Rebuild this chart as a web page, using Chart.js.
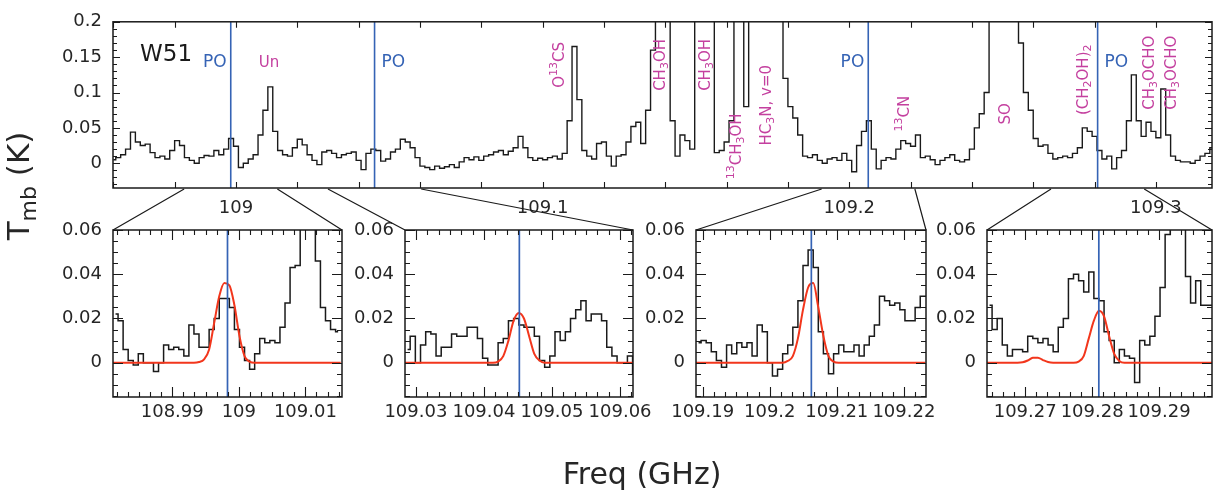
<!DOCTYPE html>
<html>
<head>
<meta charset="utf-8">
<title>W51 PO lines</title>
<script src="https://cdn.jsdelivr.net/npm/chart.js@4/dist/chart.umd.min.js"></script>
<style>
  html, body { margin: 0; padding: 0; background: #fff; }
  #fig { position: relative; width: 1213px; height: 493px; overflow: hidden; }
</style>
</head>
<body>
<div id="fig"></div>
<script>
// ---- full band spectrum (K), channel centres from topStart in steps of topStep GHz
const topStart = 108.960, topStep = 0.0016;
const topTmb = [
  0.005, 0.008, 0.012, 0.020, 0.044, 0.030, 0.025, 0.027, 0.015, 0.008,
  0.010, 0.006, 0.018, 0.032, 0.025, 0.008, 0.004, 0.000, 0.008, 0.011,
  0.010, 0.018, 0.012, 0.020, 0.035, 0.024, -0.006, 0.000, 0.006, 0.012,
  0.040, 0.075, 0.108, 0.045, 0.018, 0.012, 0.010, 0.022, 0.034, 0.026,
  0.012, 0.004, -0.002, 0.016, 0.018, 0.014, 0.008, 0.012, 0.014, 0.016,
  0.004, -0.009, 0.014, 0.020, 0.018, 0.003, 0.006, 0.016, 0.020, 0.034,
  0.030, 0.022, 0.008, -0.004, -0.006, -0.009, -0.004, -0.007, -0.005, -0.002,
  -0.006, 0.002, 0.008, 0.005, 0.009, 0.004, 0.010, 0.012, 0.016, 0.018,
  0.012, 0.017, 0.022, 0.038, 0.022, 0.008, 0.004, 0.007, 0.005, 0.008,
  0.010, 0.006, 0.014, 0.060, 0.165, 0.090, 0.018, 0.010, 0.006, 0.028,
  0.030, 0.010, -0.004, 0.010, 0.012, 0.030, 0.052, 0.058, 0.028, 0.075,
  0.160, 0.320, 0.400, 0.300, 0.060, 0.010, 0.040, 0.032, 0.020, 0.250,
  0.450, 0.400, 0.220, 0.015, 0.018, 0.030, 0.060, 0.250, 0.500, 0.080,
  0.350, 0.600, 0.800, 0.900, 0.800, 0.600, 0.240, 0.120, 0.080, 0.064,
  0.040, 0.010, 0.008, 0.012, 0.004, 0.000, 0.006, 0.008, 0.004, 0.014,
  0.004, -0.012, 0.025, 0.045, 0.060, 0.020, -0.008, 0.004, 0.008, 0.006,
  0.020, 0.032, 0.028, 0.024, 0.040, 0.008, 0.010, 0.005, -0.002, 0.004,
  0.008, 0.012, 0.004, 0.002, 0.005, 0.020, 0.050, 0.070, 0.100, 0.250,
  0.500, 0.800, 1.000, 0.800, 0.500, 0.170, 0.100, 0.075, 0.035, 0.024,
  0.026, 0.014, 0.006, 0.008, 0.010, 0.008, 0.014, 0.022, 0.050, 0.045,
  0.038, 0.018, 0.006, 0.010, -0.008, 0.008, 0.018, 0.060, 0.125, 0.060,
  0.038, 0.058, 0.045, 0.036, 0.105, 0.040, 0.010, 0.004, 0.002, 0.002,
  0.000, 0.004, 0.010, 0.014, 0.022
];
const topFreq = topTmb.map((_, i) => topStart + i * topStep);
const topXRange = [108.9599, 109.3183];
const topYRange = [-0.035, 0.2];
const topXTicks = [109, 109.1, 109.2, 109.3];
const topXLabels = ['109', '109.1', '109.2', '109.3'];
const topYTicks = [0, 0.05, 0.1, 0.15, 0.2];
const topYLabels = ['0', '0.05', '0.1', '0.15', '0.2'];

// ---- PO transitions and the zoomed windows around them
const poFreq = [108.9983, 109.0452, 109.2062, 109.2810];
const zoomMin = [108.9811, 109.0284, 109.1890, 109.2643];
const zoomMax = [109.0155, 109.0619, 109.2233, 109.2979];
const chanWidth = 0.00076; // GHz
const zoomXTicks = [
  [108.99, 109, 109.01],
  [109.03, 109.04, 109.05, 109.06],
  [109.19, 109.2, 109.21, 109.22],
  [109.27, 109.28, 109.29]
];
const zoomXLabels = [
  ['108.99', '109', '109.01'],
  ['109.03', '109.04', '109.05', '109.06'],
  ['109.19', '109.2', '109.21', '109.22'],
  ['109.27', '109.28', '109.29']
];
const zoomYRange = [-0.0155, 0.06];
const zoomYTicks = [0, 0.02, 0.04, 0.06];
const zoomYLabels = ['0', '0.02', '0.04', '0.06'];

// observed spectra in each window, one value per channel
const zoomTmb = [
  [0.022, 0.019, 0.006, 0.001, -0.001, 0.004, 0.000, 0.000, -0.004, 0.000,
   0.008, 0.006, 0.007, 0.006, 0.003, 0.017, 0.013, 0.007, 0.007, 0.015,
   0.020, 0.029, 0.029, 0.025, 0.015, 0.007, 0.001, -0.003, 0.004, 0.011,
   0.009, 0.010, 0.009, 0.016, 0.027, 0.043, 0.044, 0.065, 0.075, 0.070,
   0.046, 0.025, 0.019, 0.015, 0.014],
  [0.006, 0.012, 0.000, 0.008, 0.014, 0.013, 0.003, 0.007, 0.007, 0.013,
   0.012, 0.012, 0.016, 0.016, 0.011, 0.002, -0.001, -0.001, 0.009, 0.011,
   0.019, 0.020, 0.017, 0.016, 0.016, 0.012, 0.001, -0.002, 0.003, 0.014,
   0.010, 0.014, 0.020, 0.024, 0.028, 0.019, 0.022, 0.022, 0.019, 0.007,
   0.003, 0.000, 0.000, 0.003, -0.005],
  [0.009, 0.010, 0.009, 0.005, 0.001, -0.002, 0.008, 0.004, 0.009, 0.007,
   0.009, 0.003, 0.017, 0.014, 0.000, -0.006, -0.003, 0.004, 0.008, 0.016,
   0.028, 0.044, 0.051, 0.043, 0.014, 0.004, -0.005, 0.004, 0.008, 0.005,
   0.005, 0.008, 0.003, 0.008, 0.012, 0.017, 0.030, 0.028, 0.026, 0.027,
   0.024, 0.019, 0.019, 0.025, 0.030, 0.030],
  [0.026, 0.015, 0.020, 0.008, 0.003, 0.006, 0.006, 0.005, 0.012, 0.011,
   0.009, 0.011, 0.008, 0.005, 0.016, 0.020, 0.038, 0.040, 0.037, 0.032,
   0.041, 0.029, 0.028, 0.014, 0.010, 0.000, 0.006, 0.003, 0.002, -0.009,
   0.010, 0.008, 0.012, 0.021, 0.034, 0.058, 0.070, 0.080, 0.075, 0.039,
   0.027, 0.037, 0.026, 0.026, 0.026]
];

// fitted PO profiles, sampled at the channel edges
const zoomFit = [
  [0, 0, 0, 0, 0, 0, 0, 0, 0, 0, 0, 0, 0, 0, 0, 0, 0, 0.0003, 0.0015, 0.006,
   0.018, 0.030, 0.036, 0.035, 0.026, 0.012, 0.003, 0.0005, 0, 0,
   0, 0, 0, 0, 0, 0, 0, 0, 0, 0, 0, 0, 0, 0, 0, 0],
  [0, 0, 0, 0, 0, 0, 0, 0, 0, 0, 0, 0, 0, 0, 0, 0, 0, 0, 0.0005, 0.003,
   0.010, 0.019, 0.0225, 0.020, 0.012, 0.004, 0.001, 0, 0, 0,
   0, 0, 0, 0, 0, 0, 0, 0, 0, 0, 0, 0, 0, 0, 0, 0],
  [0, 0, 0, 0, 0, 0, 0, 0, 0, 0, 0, 0, 0, 0, 0, 0, 0, 0, 0.0008, 0.003,
   0.011, 0.024, 0.034, 0.036, 0.025, 0.012, 0.003, 0.0005, 0, 0,
   0, 0, 0, 0, 0, 0, 0, 0, 0, 0, 0, 0, 0, 0, 0, 0],
  [0, 0, 0, 0, 0, 0, 0, 0.0002, 0.001, 0.0022, 0.0023, 0.0012, 0.0003, 0, 0, 0, 0, 0, 0.0005, 0.003,
   0.011, 0.019, 0.0235, 0.021, 0.012, 0.004, 0.0008, 0, 0, 0,
   0, 0, 0, 0, 0, 0, 0, 0, 0, 0, 0, 0, 0, 0, 0, 0]
];

// line identifications in the band plot
const tagText = ['Un', 'O^{13}CS', 'CH_{3}OH', 'CH_{3}OH', '^{13}CH_{3}OH', 'HC_{3}N, v=0',
                 '^{13}CN', 'SO', '(CH_{2}OH)_{2}', 'CH_{3}OCHO', 'CH_{3}OCHO'];
const tagFreq = [109.0108, 109.1057, 109.1386, 109.1533, 109.1634, 109.1732,
                 109.2182, 109.2511, 109.2766, 109.2981, 109.3053];
const tagLevel = [0.142, 0.139, 0.139, 0.139, 0.024, 0.082, 0.070, 0.070, 0.118, 0.128, 0.128];
const tagUpright = [true, false, false, false, false, false, false, false, false, false, false];
const poTagAlign = ['right', 'left', 'right', 'left'];

const FONT = '"DejaVu Sans", sans-serif';
const BLUE = '#3563b5', RED = '#f2361c', MAGENTA = '#c4409f', INK = '#1a1a1a';
const connectHalf = 0.0152;
const panelBox = [[113, 342], [405, 633], [696, 926], [987, 1212]];

Chart.defaults.font.family = FONT;
Chart.defaults.color = '#262626';

// text with _{sub} and ^{sup} parts
function drawRich(ctx, str, x, y, size, color, angle, align) {
  const parts = [];
  str.replace(/([_^])\{([^}]*)\}|([^_^]+)/g, (m, k, inner, plain) => {
    parts.push(plain !== undefined ? [plain, 0] : [inner, k === '^' ? 1 : -1]);
  });
  const fontFor = s => (s ? Math.round(size * 0.72) : size) + 'px ' + FONT;
  ctx.save();
  ctx.translate(x, y);
  ctx.rotate(angle || 0);
  ctx.fillStyle = color;
  ctx.textBaseline = 'middle';
  ctx.textAlign = 'left';
  let w = 0;
  parts.forEach(([t, s]) => { ctx.font = fontFor(s); w += ctx.measureText(t).width; });
  let cx = align === 'left' ? 0 : align === 'right' ? -w : -w / 2;
  parts.forEach(([t, s]) => {
    ctx.font = fontFor(s);
    ctx.fillText(t, cx, s === 1 ? -0.38 * size : s === -1 ? 0.3 * size : 0);
    cx += ctx.measureText(t).width;
  });
  ctx.restore();
}

// box around the plot with inward ticks on all four sides
const frameTicks = {
  id: 'frameTicks',
  afterDatasetsDraw(chart, args, o) {
    const { ctx, chartArea: a, scales: { x, y } } = chart;
    ctx.save();
    ctx.strokeStyle = INK;
    ctx.lineWidth = 1.1;
    ctx.beginPath();
    const marks = (scale, step, every, major, minor, vertical) => {
      const k0 = Math.ceil(scale.min / step - 1e-6), k1 = Math.floor(scale.max / step + 1e-6);
      for (let k = k0; k <= k1; k++) {
        const p = Math.round(scale.getPixelForValue(k * step)) + 0.5;
        const len = ((k % every) + every) % every === 0 ? major : minor;
        if (vertical) {
          ctx.moveTo(p, a.bottom); ctx.lineTo(p, a.bottom - len);
          ctx.moveTo(p, a.top); ctx.lineTo(p, a.top + len);
        } else {
          ctx.moveTo(a.left, p); ctx.lineTo(a.left + len, p);
          ctx.moveTo(a.right, p); ctx.lineTo(a.right - len, p);
        }
      }
    };
    marks(x, o.xStep, o.xEvery, o.xMajor, o.xMinor, true);
    marks(y, o.yStep, o.yEvery, o.yMajor, o.yMinor, false);
    ctx.stroke();
    ctx.lineWidth = 1.5;
    ctx.strokeRect(a.left, a.top, a.right - a.left, a.bottom - a.top);
    ctx.restore();
  }
};

// molecule names, PO markers and source name on the band plot
const lineTags = {
  id: 'lineTags',
  afterDatasetsDraw(chart) {
    const { ctx, chartArea: a, scales: { x, y } } = chart;
    tagText.forEach((t, i) => {
      drawRich(ctx, t, x.getPixelForValue(tagFreq[i]), y.getPixelForValue(tagLevel[i]),
               15, MAGENTA, tagUpright[i] ? 0 : -Math.PI / 2, 'center');
    });
    poFreq.forEach((f, i) => {
      const px = x.getPixelForValue(f) + (poTagAlign[i] === 'right' ? -4 : 7);
      drawRich(ctx, 'PO', px, y.getPixelForValue(0.142), 17, BLUE, 0, poTagAlign[i]);
    });
    drawRich(ctx, 'W51', a.left + 27, a.top + 33, 23, INK, 0, 'left');
  }
};

function place(left, top, w, h) {
  const c = document.createElement('canvas');
  c.width = w; c.height = h;
  c.style.cssText = `position:absolute;left:${left}px;top:${top}px;width:${w}px;height:${h}px`;
  document.getElementById('fig').appendChild(c);
  return c;
}

function xAxis(range, ticks, labels, height, pad) {
  return {
    type: 'linear', min: range[0], max: range[1],
    grid: { display: false, drawTicks: false }, border: { display: false },
    afterBuildTicks: s => { s.ticks = ticks.map(v => ({ value: v })); },
    afterFit: s => { s.height = height; },
    ticks: { autoSkip: false, maxRotation: 0, padding: pad, font: { size: 18 },
             callback: (v, i) => labels[i] }
  };
}

function yAxis(range, ticks, labels, width) {
  return {
    type: 'linear', min: range[0], max: range[1],
    grid: { display: false, drawTicks: false }, border: { display: false },
    afterBuildTicks: s => { s.ticks = ticks.map(v => ({ value: v })); },
    afterFit: s => { s.width = width; },
    ticks: { autoSkip: false, padding: 11, font: { size: 18 },
             callback: (v, i) => labels[i] }
  };
}

function vline(f, width) {
  return { data: [{ x: f, y: -1 }, { x: f, y: 1 }], borderColor: BLUE,
           borderWidth: width, pointRadius: 0 };
}

const base = {
  responsive: false, animation: false, events: [],
  elements: { line: { tension: 0 } }
};

const topChart = new Chart(place(0, 0, 1213, 232), {
  type: 'line',
  data: {
    datasets: [
      ...poFreq.map(f => vline(f, 1.6)),
      { data: topFreq.map((f, i) => ({ x: f, y: topTmb[i] })), stepped: 'middle',
        borderColor: INK, borderWidth: 1.4, pointRadius: 0 }
    ]
  },
  options: {
    ...base,
    layout: { padding: { top: 21, right: 1, left: 0, bottom: 0 } },
    scales: {
      x: xAxis(topXRange, topXTicks, topXLabels, 44, 10),
      y: yAxis(topYRange, topYTicks, topYLabels, 113)
    },
    plugins: {
      legend: { display: false }, tooltip: { enabled: false },
      frameTicks: { xStep: 0.02, xEvery: 5, xMajor: 6, xMinor: 6,
                    yStep: 0.01, yEvery: 5, yMajor: 7, yMinor: 4 }
    }
  },
  plugins: [frameTicks, lineTags]
});

const padL = 70, padR = 30, zoomTop = 200;
const zoomCharts = panelBox.map(([L, R], k) => new Chart(
  place(L - padL, zoomTop, R - L + padL + padR, 240), {
  type: 'line',
  data: {
    datasets: [
      vline(poFreq[k], 1.7),
      { data: zoomFit[k].map((v, i) => ({ x: zoomMin[k] + i * chanWidth, y: v })),
        borderColor: RED, borderWidth: 2, pointRadius: 0, cubicInterpolationMode: 'monotone' },
      { data: zoomTmb[k].map((v, i) => ({ x: zoomMin[k] + (i + 0.5) * chanWidth, y: v })),
        stepped: 'middle', borderColor: INK, borderWidth: 1.5, pointRadius: 0 }
    ]
  },
  options: {
    ...base,
    layout: { padding: { top: 30, right: padR, left: 0, bottom: 0 } },
    scales: {
      x: xAxis([zoomMin[k], zoomMax[k]], zoomXTicks[k], zoomXLabels[k], 43, 5),
      y: yAxis(zoomYRange, zoomYTicks, zoomYLabels, padL)
    },
    plugins: {
      legend: { display: false }, tooltip: { enabled: false },
      frameTicks: { xStep: 0.01 / 6, xEvery: 6, xMajor: 10, xMinor: 5,
                    yStep: 0.005, yEvery: 4, yMajor: 10, yMinor: 5 }
    }
  },
  plugins: [frameTicks]
}));

// connectors from the band plot to each zoom window, and the shared axis titles
const ov = place(0, 0, 1213, 493);
const g = ov.getContext('2d');
const tx = topChart.scales.x, tb = topChart.chartArea.bottom + 1;
g.strokeStyle = INK;
g.lineWidth = 1.2;
g.beginPath();
zoomCharts.forEach((c, k) => {
  const a = c.chartArea, off = panelBox[k][0] - padL;
  g.moveTo(tx.getPixelForValue(poFreq[k] - connectHalf), tb);
  g.lineTo(a.left + off, a.top + zoomTop);
  g.moveTo(tx.getPixelForValue(poFreq[k] + connectHalf), tb);
  g.lineTo(a.right + off, a.top + zoomTop);
});
g.stroke();
drawRich(g, 'Freq (GHz)', 642, 476, 30, '#262626', 0, 'center');
drawRich(g, 'T_{mb} (K)', 21, 186, 31, '#262626', -Math.PI / 2, 'center');
</script>
</body>
</html>
